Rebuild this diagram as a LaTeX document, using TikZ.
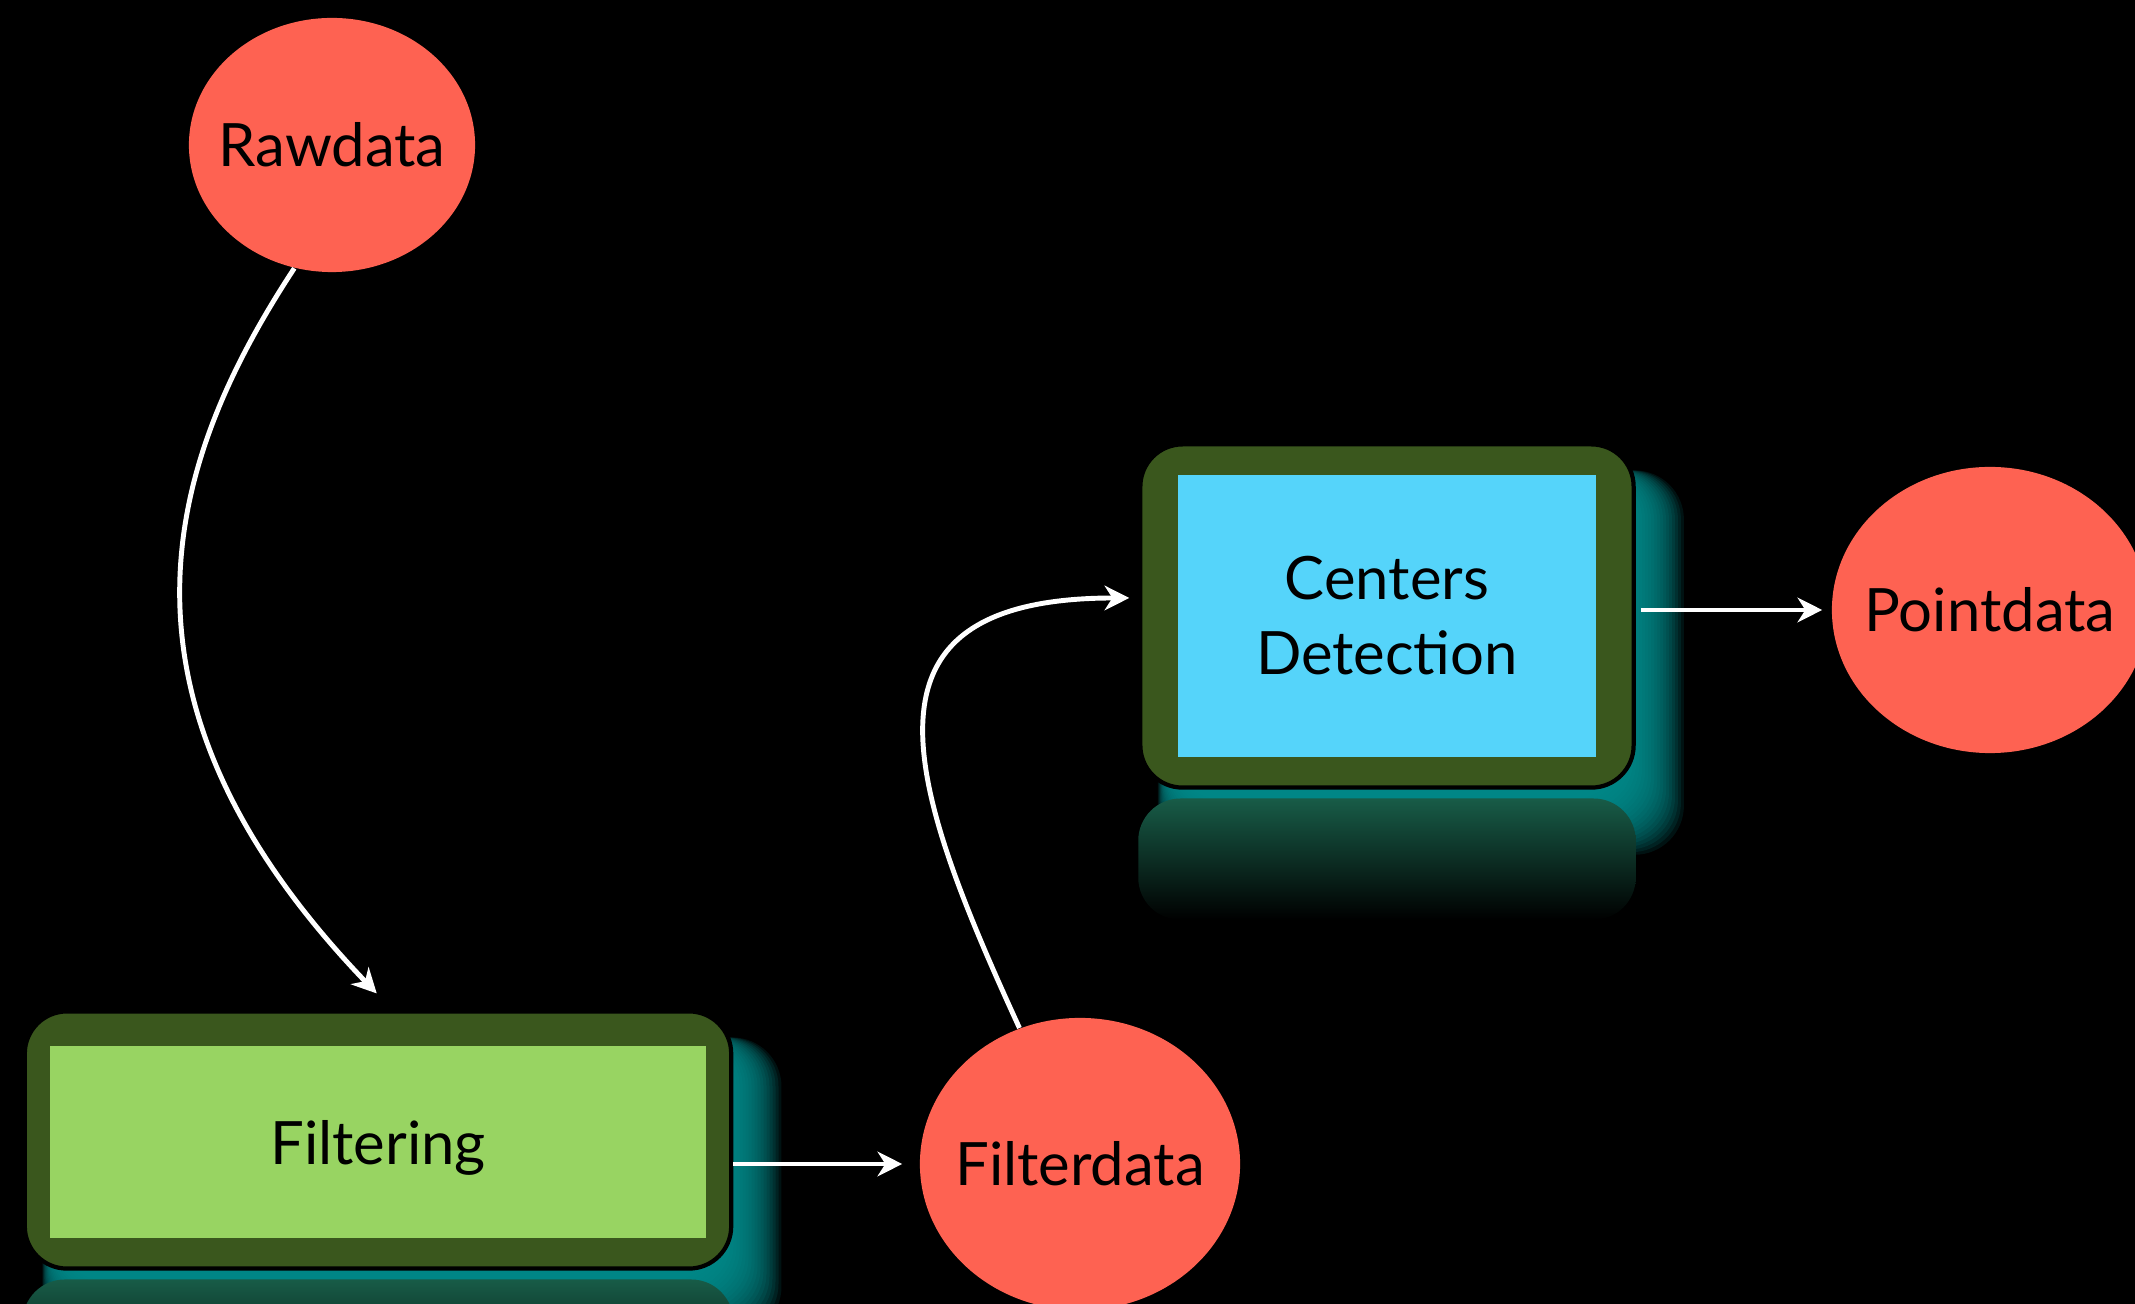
\documentclass[tikz,border=0pt]{standalone}
\usepackage{fontspec}
\setmainfont{Lato}
\usetikzlibrary{arrows.meta,shapes.geometric,backgrounds}

\definecolor{datared}{RGB}{254,98,82}
\definecolor{boxrim}{RGB}{58,87,29}
\definecolor{filtgreen}{RGB}{152,212,98}
\definecolor{detblue}{RGB}{85,212,250}
\definecolor{glowteal}{RGB}{0,145,145}
\definecolor{reflgreen}{RGB}{28,108,84}

\tikzset{
  datanode/.style={ellipse, fill=datared, inner sep=-6pt, lbl},
  procbox/.style={draw=black, line width=1.2pt, fill=boxrim, rounded corners=12pt, inner sep=0pt},
  procfill/.style={fill=#1, inner sep=0pt, align=center, lbl},
  flow/.style={white, line width=1.4pt, -{Stealth[length=7pt,width=7pt,inset=2.2pt]}},
  lbl/.style={font=\fontsize{17}{21.3}\selectfont}
}

\begin{document}
\begin{tikzpicture}[x=0.01cm, y=-0.01cm]
  \useasboundingbox (0,0) rectangle (2135,1304);

  % data
  \node[datanode, minimum width=2.86cm, minimum height=2.54cm] (raw) at (332,145) {Rawdata};
  \node[datanode, minimum width=3.20cm, minimum height=2.92cm] (fdata) at (1080,1164) {Filterdata};
  \node[datanode, minimum width=3.16cm, minimum height=2.86cm] (pdata) at (1990,610) {Pointdata};

  % processing steps
  \node[procbox, minimum width=7.06cm, minimum height=2.57cm] (filt) at (378,1140) {};
  \node[procfill=filtgreen, minimum width=6.55cm, minimum height=1.92cm, text depth=0pt] (filtin) at (378,1142) {Filtering};
  \node[procbox, minimum width=4.93cm, minimum height=3.43cm] (cent) at (1387,616) {};
  \node[procfill=detblue, minimum width=4.17cm, minimum height=2.82cm] (centin) at (1387,616) {Centers\\Detection};

  % glow and reflection
  \begin{pgfonlayer}{background}
    \fill[black] (0,0) rectangle (2135,1304);
    \foreach \b in {filt,cent}{
      \foreach \g in {1,...,22}
        \fill[glowteal, opacity=.13, rounded corners=14pt]
          ([xshift=10pt-.2*\g pt, yshift=-2pt-.75*\g pt]\b.south west)
          rectangle ([xshift=-5pt+.85*\g pt, yshift=-8pt]\b.north east);
      \shade[top color=reflgreen!85!black, middle color=reflgreen!15!black, bottom color=black, rounded corners=12pt]
        ([yshift=-2.5pt]\b.south west) rectangle ([yshift=-1.3cm]\b.south east);
    }
  \end{pgfonlayer}

  \draw[flow, shorten >=.22cm] (raw.253) .. controls (167,462) and (92,697) .. ([xshift=.14cm]filt.north);
  \draw[flow, shorten >=.17cm] (filt.east |- fdata.west) -- (fdata.west);
  \draw[flow, shorten >=.09cm] (fdata.114) .. controls (906,781) and (844,598) .. ([yshift=.18cm]cent.west);
  \draw[flow, shorten <=.05cm, shorten >=.09cm] (cent.east |- pdata.west) -- (pdata.west);
\end{tikzpicture}
\end{document}
